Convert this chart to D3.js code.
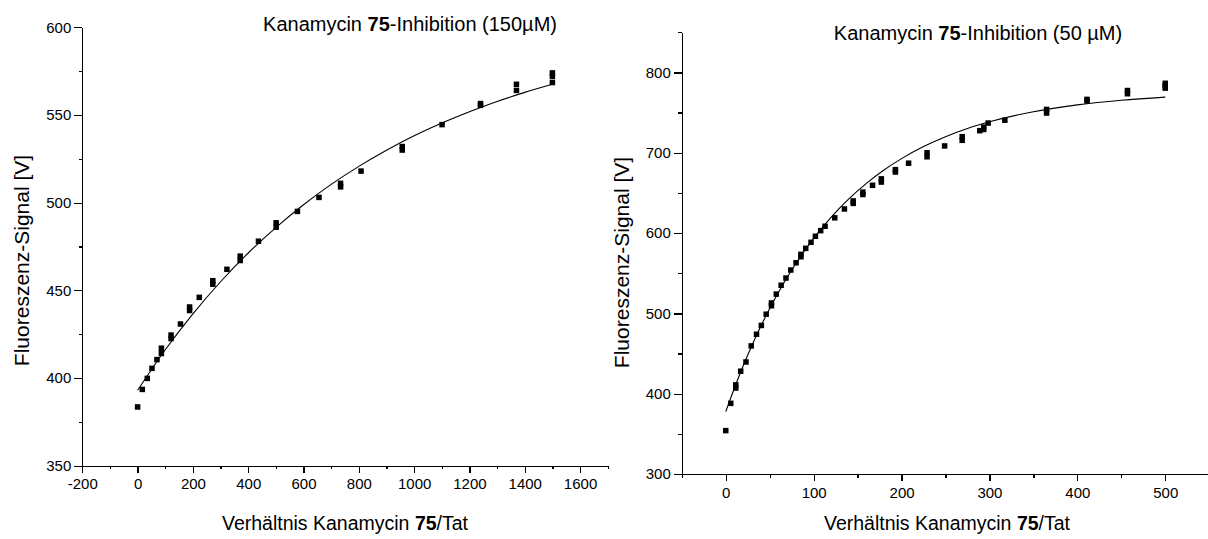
<!DOCTYPE html>
<html>
<head>
<meta charset="utf-8">
<script src="https://cdn.jsdelivr.net/npm/d3@7"></script>
<style>
  html, body { margin: 0; padding: 0; background: #fff; }
  svg { display: block; font-family: "Liberation Sans", Arial, sans-serif; }
  .axis path, .axis line { stroke: #000; stroke-width: 1.3; fill: none; shape-rendering: crispEdges; }
  .axis text { font-size: 15px; fill: #000; }
</style>
</head>
<body>
<svg id="chart" width="1208" height="539"></svg>
<script>
// ---------- Left panel (150 µM) ----------
const leftX = [0,17,35,52,70,86,86,121,121,155,188,188,223,272,272,323,371,371,437,501,501,578,656,734,734,808,957,957,1101,1240,1240,1370,1370,1500,1500,1500];
const leftY = [383.5,393.5,399.8,405.5,410.5,414,417,422.5,424.5,430.8,438.5,440.5,446,453.5,455.5,462,467,469.5,478,486,488.5,495,503,509,511,518,530,532,544.5,555.5,556.5,564,567.5,568.5,572,574];
const leftFitX = [0,100,200,300,400,500,600,700,800,900,1000,1100,1200,1300,1400,1500];
const leftFitY = [393.0,416.1,436.6,454.9,471.3,485.8,498.8,510.4,520.7,529.9,538.1,545.4,551.9,557.7,562.9,567.5];
const leftXMajor = [-200,0,200,400,600,800,1000,1200,1400,1600];
const leftXMinor = [-100,100,300,500,700,900,1100,1300,1500,1700];
const leftYMajor = [350,400,450,500,550,600];
const leftYMinor = [375,425,475,525,575];

// ---------- Right panel (50 µM) ----------
const rightX = [0,5.7,11.4,11.4,17,23,29,35,40.5,46,52,52,57.5,63,68.5,74,80,85.5,85.5,91,97,102,108,113,124,135,145,145,156,156,167,177,177,193,193,208,229,229,249,269,269,289,293.5,293.5,298.5,317.5,365,365,411,411,457,457,500,500,500];
const rightY = [354,388,407,411,428,439.5,459.5,474,485,499,509.5,513,524,535,544,554,563,570.5,573.5,581,588.5,596,603,608.5,619,630,637,640,648,651,659.5,663.5,667.5,676,679,687,695,700,708.5,715.5,720,727.5,729,732,737,740.5,749.5,754,764.5,766.5,773.5,777.5,780.5,783.5,786.5];
const rightFitX = [0,10,20,30,40,50,60,70,80,90,100,120,140,160,180,200,225,250,275,300,350,400,450,500];
const rightFitY = [377.6,407.4,435.0,460.6,484.2,506.1,526.4,545.1,562.4,578.5,593.3,619.8,642.5,661.9,678.5,692.7,707.7,720.0,730.2,738.5,751.1,759.6,765.4,769.3];
const rightXMajor = [0,100,200,300,400,500];
const rightXMinor = [-50,50,150,250,350,450,550];
const rightYMajor = [300,400,500,600,700,800];
const rightYMinor = [350,450,550,650,750,850];

const titleLeft = ["Kanamycin ", "75", "-Inhibition (150\u00B5M)"];
const titleRight = ["Kanamycin ", "75", "-Inhibition (50 \u00B5M)"];
const xLabel = ["Verh\u00E4ltnis Kanamycin ", "75", "/Tat"];
const yLabel = "Fluoreszenz-Signal [V]";

const svg = d3.select("#chart");
const fmt = d => String(d);   // plain hyphen-minus, like the original

function richText(g, parts, attrs) {
  const t = g.append("text");
  Object.entries(attrs).forEach(([k, v]) => t.attr(k, v));
  parts.forEach((p, i) => {
    t.append("tspan").text(p).attr("font-weight", i === 1 ? "bold" : "normal");
  });
  return t;
}

function panel(cfg) {
  const g = svg.append("g");
  const x = d3.scaleLinear().domain(cfg.xDomain).range(cfg.xRange);
  const y = d3.scaleLinear().domain(cfg.yDomain).range(cfg.yRange);
  const x0 = cfg.xRange[0], y0 = cfg.yRange[0];

  // minor ticks
  g.append("g").attr("class", "axis").attr("transform", `translate(0,${y0})`)
    .call(d3.axisBottom(x).tickValues(cfg.xMinor).tickSize(3.5).tickSizeOuter(0).tickFormat(""))
    .select(".domain").remove();
  g.append("g").attr("class", "axis").attr("transform", `translate(${x0},0)`)
    .call(d3.axisLeft(y).tickValues(cfg.yMinor).tickSize(3.5).tickSizeOuter(0).tickFormat(""))
    .select(".domain").remove();
  // major axes
  g.append("g").attr("class", "axis").attr("transform", `translate(0,${y0})`)
    .call(d3.axisBottom(x).tickValues(cfg.xMajor).tickSize(7).tickSizeOuter(0).tickPadding(6).tickFormat(fmt));
  g.append("g").attr("class", "axis").attr("transform", `translate(${x0},0)`)
    .call(d3.axisLeft(y).tickValues(cfg.yMajor).tickSize(8).tickSizeOuter(0).tickPadding(3).tickFormat(fmt));

  // fit line
  const line = d3.line().x(d => x(d[0])).y(d => y(d[1])).curve(d3.curveMonotoneX);
  g.append("path")
    .datum(cfg.fitX.map((v, i) => [v, cfg.fitY[i]]))
    .attr("d", line).attr("fill", "none").attr("stroke", "#000").attr("stroke-width", 1.1);

  // points
  const s = 5.5;
  g.selectAll("rect.pt").data(cfg.px.map((v, i) => [v, cfg.py[i]])).enter()
    .append("rect").attr("class", "pt")
    .attr("x", d => x(d[0]) - s / 2).attr("y", d => y(d[1]) - s / 2)
    .attr("width", s).attr("height", s).attr("fill", "#000");

  // titles
  richText(g, cfg.title, { x: cfg.titleX, y: cfg.titleY, "text-anchor": "middle", "font-size": "20px" });
  richText(g, xLabel, { x: cfg.xLabelX, y: 530, "text-anchor": "middle", "font-size": "19.5px" });
  g.append("text").text(yLabel)
    .attr("transform", `translate(${cfg.yLabelX},${cfg.yLabelY}) rotate(-90)`)
    .attr("text-anchor", "middle").attr("font-size", "21px");
}

panel({
  xDomain: [-200, 1700], xRange: [82.3, 607.7],
  yDomain: [350, 600], yRange: [465.7, 27.3],
  xMajor: leftXMajor, xMinor: leftXMinor, yMajor: leftYMajor, yMinor: leftYMinor,
  px: leftX, py: leftY, fitX: leftFitX, fitY: leftFitY,
  title: titleLeft, titleX: 410, titleY: 31,
  xLabelX: 345, yLabelX: 29, yLabelY: 260.5
});

panel({
  xDomain: [-50, 550], xRange: [681.8, 1209.2],
  yDomain: [300, 850], yRange: [474, 32.3],
  xMajor: rightXMajor, xMinor: rightXMinor, yMajor: rightYMajor, yMinor: rightYMinor,
  px: rightX, py: rightY, fitX: rightFitX, fitY: rightFitY,
  title: titleRight, titleX: 978, titleY: 39.5,
  xLabelX: 947, yLabelX: 629, yLabelY: 262.5
});
</script>
</body>
</html>
